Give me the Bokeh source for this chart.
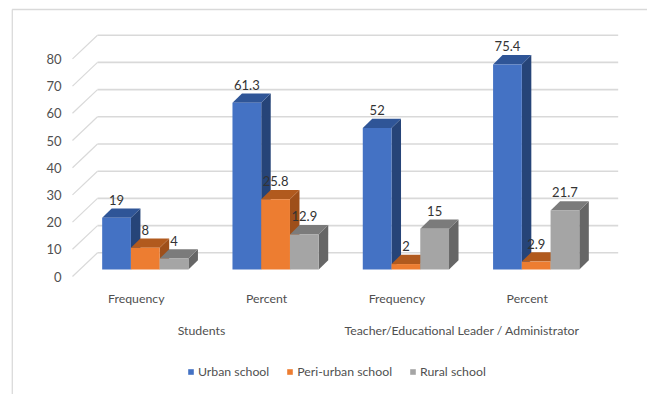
from bokeh.models import FixedTicker, Legend, LegendItem, LinearAxis, Range1d
from bokeh.plotting import figure
from bokeh.core.properties import value
from bokeh.embed import file_html
from bokeh.resources import INLINE

# School-type counts and percentages per respondent group
measures = ["Frequency", "Percent", "Frequency", "Percent"]
groups = ["Students", "Teacher/Educational Leader / Administrator"]
series_names = ["Urban school", "Peri-urban school", "Rural school"]
urban = [19, 61.3, 52, 75.4]
peri_urban = [8, 25.8, 2, 2.9]
rural = [4, 12.9, 15, 21.7]
y_ticks = [0, 10, 20, 30, 40, 50, 60, 70, 80]

FONT = "Lato"
SIZE = "12.3px"
INK = "#505050"
front = ["#4472C4", "#ED7D31", "#A5A5A5"]
top_face = ["#2F5597", "#B15A1E", "#7B7B7B"]
side_face = ["#264478", "#9E4F1A", "#666666"]
GRID = "#D9D9D9"

PX_X = 130.3   # pixels per category step
PX_Y = 2.72    # pixels per value unit
FRAME_LEFT = 11

p = figure(width=647, height=394, output_backend="svg", toolbar_location=None,
           frame_width=647 - FRAME_LEFT, frame_height=394,
           x_range=Range1d((FRAME_LEFT - 144.8) / PX_X, (647 - 144.8) / PX_X),
           y_range=Range1d(-(394 - 276) / PX_Y, 276 / PX_Y),
           min_border_left=FRAME_LEFT, min_border_right=0, min_border_top=0, min_border_bottom=0,
           outline_line_color=None, background_fill_color="white", border_fill_color="white")
p.xaxis.visible = False
p.xgrid.visible = False
p.ygrid.visible = False

# Value axis, its labels pulled into the chart area
yax = p.yaxis[0]
yax.ticker = FixedTicker(ticks=y_ticks)
yax.axis_line_color = None
yax.major_tick_line_color = None
yax.minor_tick_line_color = None
yax.major_label_text_font = FONT
yax.major_label_text_font_size = "13px"
yax.major_label_text_color = INK
yax.major_label_standoff = -56

# Chart-area border along the left and top edges
left_x = p.x_range.start + 0.6 / PX_X
top_y = (276 - 9) / PX_Y
p.segment(x0=[left_x, left_x], x1=[left_x, p.x_range.end],
          y0=[p.y_range.start, top_y], y1=[top_y, top_y],
          line_color=GRID, line_width=1.6)

# Back wall and side wall of the 3-D box
wall_x0 = (97 - 144.8) / PX_X
wall_x1 = (617.7 - 144.8) / PX_X
corner_x = (72 - 144.8) / PX_X
wall_lift = 23.7 / PX_Y
p.segment(x0=[wall_x0] * len(y_ticks), x1=[wall_x1] * len(y_ticks),
          y0=[t + wall_lift for t in y_ticks], y1=[t + wall_lift for t in y_ticks],
          line_color=GRID, line_width=1.6)
p.segment(x0=[corner_x] * len(y_ticks), x1=[wall_x0] * len(y_ticks),
          y0=y_ticks, y1=[t + wall_lift for t in y_ticks],
          line_color=GRID, line_width=1.2)

# Extruded bars, drawn series by series so nearer faces overlap correctly
bar_w = 28.75 / PX_X
dx = 9.5 / PX_X
dy = 9.3 / PX_Y
base = 7 / PX_Y
legend_items = []
for j, vals in enumerate([urban, peri_urban, rural]):
    left = [i + (j - 1.5) * bar_w for i in range(len(vals))]
    right = [x + bar_w for x in left]
    tops = [v + base for v in vals]
    p.patches(xs=[[r, r + dx, r + dx, r] for r in right],
              ys=[[base, base + dy, t + dy, t] for t in tops],
              fill_color=side_face[j], line_color=None)
    p.patches(xs=[[l, r, r + dx, l + dx] for l, r in zip(left, right)],
              ys=[[t, t, t + dy, t + dy] for t in tops],
              fill_color=top_face[j], line_color=None)
    bars = p.quad(left=left, right=right, bottom=base, top=tops,
                  fill_color=front[j], line_color=None)
    legend_items.append(LegendItem(label=series_names[j], renderers=[bars]))

# Value labels above each bar
for j, vals in enumerate([urban, peri_urban, rural]):
    p.text(x=[i + (j - 1) * bar_w for i in range(len(vals))],
           y=[v + base for v in vals],
           text=[f"{v:g}" for v in vals],
           y_offset=-18, text_align="center", text_baseline="middle",
           text_font=value(FONT), text_font_size="13px", text_color="#333333")

# Category labels sit slightly left of the bars, on the front edge of the floor
label_shift = -9 / PX_X
measure_ticks = [i + label_shift for i in range(len(measures))]
group_ticks = [0.5 + label_shift, 2.5 + label_shift]

# Category axis: measure row, pulled up from the bottom edge
axis_measure = LinearAxis(ticker=FixedTicker(ticks=measure_ticks),
                          major_label_overrides=dict(zip(measure_ticks, measures)))
axis_measure.axis_line_color = None
axis_measure.major_tick_line_color = None
axis_measure.minor_tick_line_color = None
axis_measure.major_label_text_font = FONT
axis_measure.major_label_text_font_size = SIZE
axis_measure.major_label_text_color = INK
axis_measure.major_label_standoff = -110
p.add_layout(axis_measure, "below")

# Category axis: respondent group row
axis_group = LinearAxis(ticker=FixedTicker(ticks=group_ticks),
                        major_label_overrides=dict(zip(group_ticks, groups)))
axis_group.axis_line_color = None
axis_group.major_tick_line_color = None
axis_group.minor_tick_line_color = None
axis_group.major_label_text_font = FONT
axis_group.major_label_text_font_size = SIZE
axis_group.major_label_text_color = INK
axis_group.major_label_standoff = -78
p.add_layout(axis_group, "below")

legend = Legend(items=legend_items, orientation="horizontal", location=(176, 15),
                glyph_width=7, glyph_height=7, label_standoff=4, spacing=17,
                label_text_font=FONT, label_text_font_size=SIZE,
                label_text_color=INK, border_line_color=None,
                background_fill_alpha=0, margin=0, padding=4)
p.add_layout(legend)

open("out.html", "w").write(file_html(p, INLINE))
